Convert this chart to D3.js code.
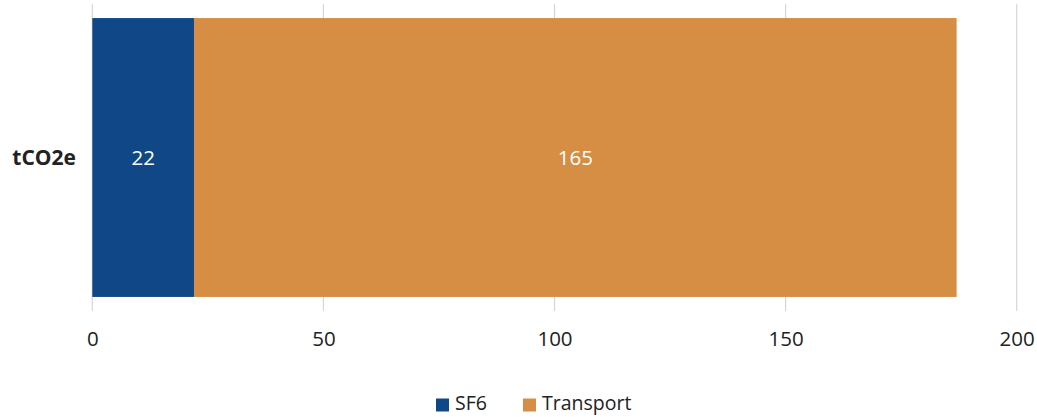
<!DOCTYPE html>
<html>
<head>
<meta charset="utf-8">
<script src="https://cdn.jsdelivr.net/npm/d3@7"></script>
<style>
  body { margin: 0; background: #fff; }
  svg { display: block; font-family: "Open Sans", "Noto Sans", sans-serif; }
</style>
</head>
<body>
<svg id="chart" width="1037" height="417"></svg>
<script>
const categories = ["tCO2e"];
const seriesNames = ["SF6", "Transport"];
const sf6Values = [22];
const transportValues = [165];
const xTicks = [0, 50, 100, 150, 200];
const colors = ["#104887", "#d68d44"];

const svg = d3.select("#chart");
const margin = { left: 92.3, right: 20.3, top: 4, bottom: 106 };
const W = 1037, H = 417;

const x = d3.scaleLinear().domain([0, 200]).range([margin.left, W - margin.right]);
const y = d3.scaleBand().domain(categories).range([margin.top, H - margin.bottom])
  .paddingInner(0.048).paddingOuter(0.048);

// gridlines
svg.append("g").selectAll("line").data(xTicks).join("line")
  .attr("x1", d => x(d)).attr("x2", d => x(d))
  .attr("y1", margin.top).attr("y2", H - margin.bottom)
  .attr("stroke", "#d6d6d6").attr("stroke-width", 1.2);

// stacked data
const rows = categories.map((c, i) => ({ cat: c, SF6: sf6Values[i], Transport: transportValues[i] }));
const stack = d3.stack().keys(seriesNames)(rows);

const layers = svg.append("g").selectAll("g").data(stack).join("g")
  .attr("fill", (d, i) => colors[i]);
layers.selectAll("rect").data(d => d).join("rect")
  .attr("x", d => x(d[0]))
  .attr("width", d => x(d[1]) - x(d[0]))
  .attr("y", d => y(d.data.cat))
  .attr("height", y.bandwidth());

layers.selectAll("text").data(d => d).join("text")
  .attr("x", d => (x(d[0]) + x(d[1])) / 2)
  .attr("y", d => y(d.data.cat) + y.bandwidth() / 2)
  .attr("dy", "0.35em")
  .attr("text-anchor", "middle")
  .attr("fill", "#fff")
  .attr("font-size", 20.5)
  .text(d => d[1] - d[0]);

// category label
svg.append("g").selectAll("text").data(categories).join("text")
  .attr("x", 76)
  .attr("y", d => y(d) + y.bandwidth() / 2)
  .attr("dy", "0.35em")
  .attr("text-anchor", "end")
  .attr("font-size", 21)
  .attr("font-weight", "bold")
  .attr("fill", "#222")
  .text(d => d);

// x axis tick labels
const xAxis = d3.axisBottom(x).tickValues(xTicks).tickSize(0).tickPadding(0);
const gx = svg.append("g").attr("transform", `translate(0,${H - margin.bottom + 20})`).call(xAxis);
gx.select(".domain").remove();
gx.selectAll("text").attr("font-size", 20.5).attr("fill", "#222")
  .attr("font-family", "'Open Sans', 'Noto Sans', sans-serif");

// legend
const legend = svg.append("g").attr("transform", "translate(436,404)");
const legendOffsets = [0, 87];
const items = legend.selectAll("g").data(seriesNames).join("g")
  .attr("transform", (d, i) => `translate(${legendOffsets[i]},0)`);
items.append("rect").attr("x", 0).attr("y", -5.5).attr("width", 13).attr("height", 13)
  .attr("fill", (d, i) => colors[i]);
items.append("text").attr("x", 19).attr("y", 0).attr("dy", "0.33em")
  .attr("font-size", 19.5).attr("fill", "#222").text(d => d);
</script>
</body>
</html>
